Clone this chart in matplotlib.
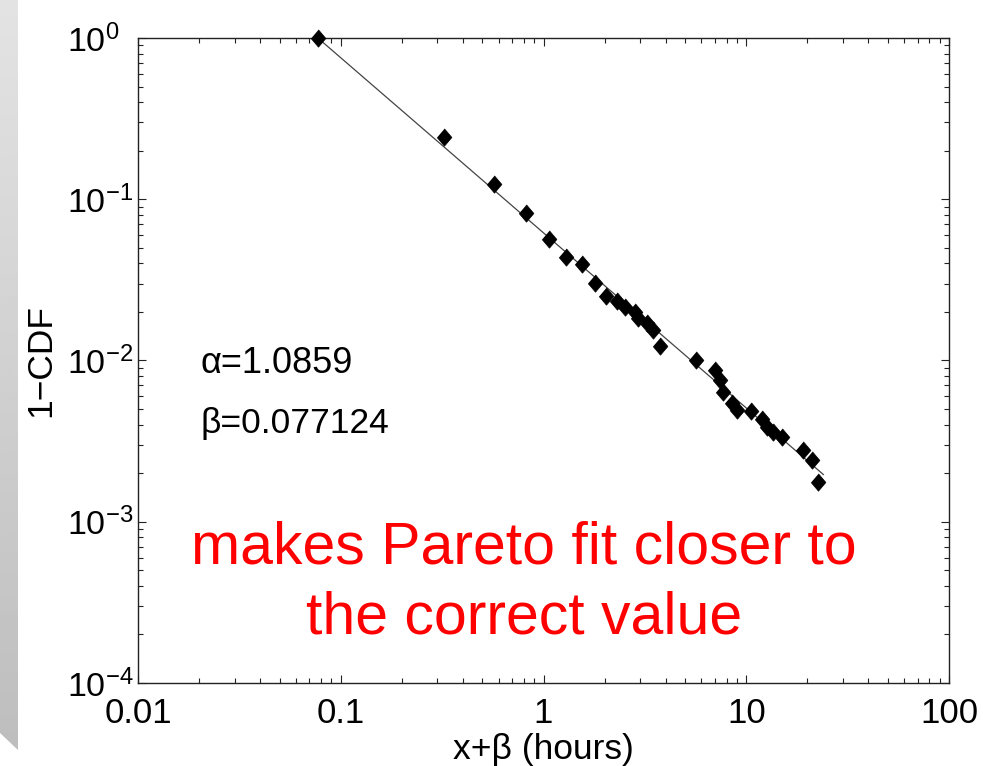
import numpy as np
import matplotlib
matplotlib.use("Agg")
import matplotlib.pyplot as plt
from matplotlib.patches import Polygon

plt.rcParams['font.family'] = ['Liberation Sans', 'DejaVu Sans']
plt.rcParams['mathtext.default'] = 'regular'

# pareto fit parameters
alpha = 1.0859
beta = 0.077124

# empirical 1-CDF, x axis is x+beta in hours
x_shift = [0.0771, 0.323, 0.570, 0.820, 1.065, 1.29, 1.55, 1.795, 2.03, 2.30,
           2.52, 2.83, 2.92, 3.24, 3.47, 3.76, 5.65, 7.01, 7.42, 7.68,
           8.51, 9.0, 10.55, 11.97, 12.66, 13.55, 15.0, 19.05, 21.1, 22.6]
ccdf = [1.0, 0.243, 0.124, 0.0822, 0.0567, 0.0438, 0.0397, 0.0303, 0.0251, 0.0234,
        0.0215, 0.0200, 0.0184, 0.0171, 0.0155, 0.0123, 0.0101, 0.00873, 0.00757, 0.00638,
        0.00545, 0.00493, 0.00486, 0.00434, 0.00387, 0.00360, 0.00335, 0.00279, 0.00242, 0.00176]

fit_x = np.array([beta, 24.0])
fit_y = (beta / fit_x) ** alpha

xticks = [0.01, 0.1, 1, 10, 100]
xticklabels = ['0.01', '0.1', '1', '10', '100']
yticks = [1e-4, 1e-3, 1e-2, 1e-1, 1]
yticklabels = ['$10^{-4}$', '$10^{-3}$', '$10^{-2}$', '$10^{-1}$', '$10^{0}$']

fig = plt.figure(figsize=(9.83, 7.66), dpi=100)

# grey slide strip on the left edge
band = fig.add_axes([0, 0, 18 / 983, 1])
band.axis('off')
grad = np.linspace(0.74, 0.89, 256).reshape(-1, 1)
im = band.imshow(grad, extent=[0, 1, 0, 1], origin='lower', aspect='auto',
                 cmap='gray', vmin=0, vmax=1)
clip = Polygon([(0, 1), (1, 1), (1, 16 / 766), (0, 33 / 766)],
               closed=True, transform=band.transAxes, facecolor='none', edgecolor='none')
band.add_patch(clip)
im.set_clip_path(clip)
band.set_xlim(0, 1)
band.set_ylim(0, 1)

ax = fig.add_axes([138 / 983, 83 / 766, 811 / 983, 645 / 766])
ax.set_xscale('log')
ax.set_yscale('log')

ax.plot(fit_x, fit_y, color='#444444', lw=0.9, zorder=2)
diamond = [(0, 1), (0.85, 0), (0, -1), (-0.85, 0)]
ax.plot(x_shift, ccdf, linestyle='none', marker=diamond, markersize=12.5,
        color='black', markeredgewidth=0.5, clip_on=False, zorder=3)

ax.set_xlim(0.01, 100)
ax.set_ylim(1e-4, 1)
ax.set_xticks(xticks, xticklabels)
ax.set_yticks(yticks, yticklabels, ha='left')

ax.tick_params(which='both', direction='in', top=True, right=True, width=0.8,
               color='#222222')
ax.tick_params(which='major', length=6)
ax.tick_params(which='minor', length=3.5)
ax.tick_params(axis='x', labelsize=25, pad=10)
ax.tick_params(axis='y', labelsize=24.5, pad=51)
for sp in ax.spines.values():
    sp.set_linewidth(1.0)
    sp.set_color('#222222')

ax.set_xlabel('x+\u03b2 (hours)', fontsize=25.5, labelpad=2)
ax.set_ylabel('1\u2212CDF', fontsize=25.5, labelpad=7)

ax.text(0.0765, 0.481, '\u03b1=1.0859', transform=ax.transAxes,
        fontsize=26, va='baseline', ha='left')
ax.text(0.0765, 0.388, '\u03b2=0.077124', transform=ax.transAxes,
        fontsize=25.5, va='baseline', ha='left')

ax.text(0.476, 0.186, 'makes Pareto fit closer to', transform=ax.transAxes,
        fontsize=42.5, color='red', ha='center', va='baseline')
ax.text(0.476, 0.0775, 'the correct value', transform=ax.transAxes,
        fontsize=42.5, color='red', ha='center', va='baseline')

fig.savefig('out.png', dpi=100)
